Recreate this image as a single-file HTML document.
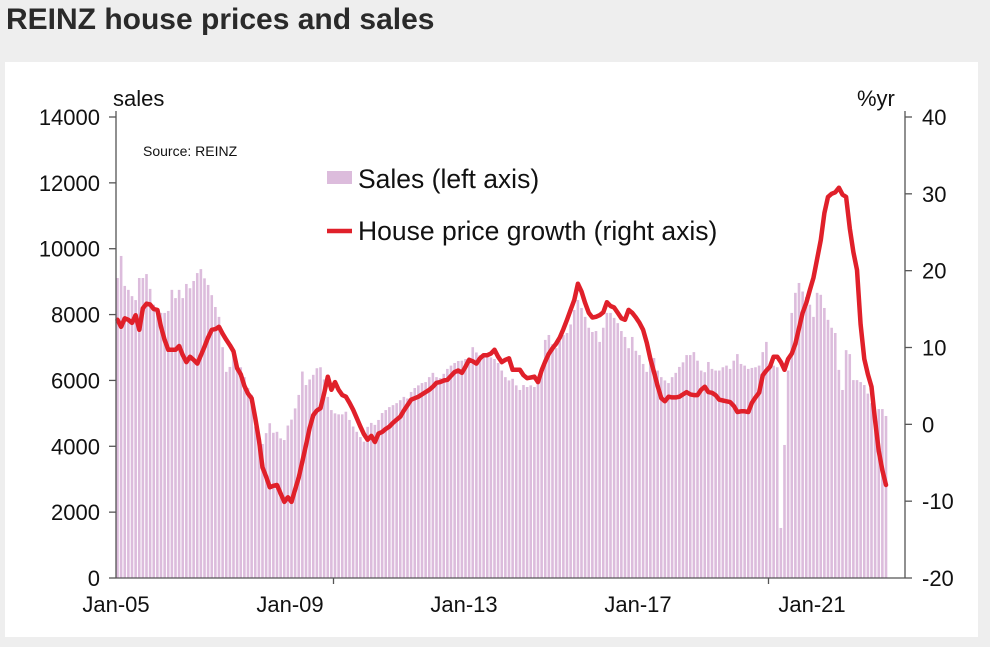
<!DOCTYPE html>
<html><head><meta charset="utf-8"><style>
body{margin:0;width:990px;height:647px;background:#eeeeee;font-family:"Liberation Sans",sans-serif;overflow:hidden}
#title{position:absolute;left:6px;top:3px;font-size:30px;font-weight:bold;color:#2a2a2a}
#panel{position:absolute;left:5px;top:62px;width:973px;height:575px;background:#fff}
svg{position:absolute;left:0;top:0}
</style></head><body>
<div id="title">REINZ house prices and sales</div>
<div id="panel"></div>
<svg id="chart" width="990" height="647"></svg>
<script>
const leftTicks=[0,2000,4000,6000,8000,10000,12000,14000];
const rightTicks=[-20,-10,0,10,20,30,40];
const xLabels=["Jan-05","Jan-09","Jan-13","Jan-17","Jan-21"];
const xLabelMonths=[0,48,96,144,192];
const xTickMonths=[60,180];
const sales=[9110,9780,8870,8750,8560,8440,9110,9110,9230,8780,8300,8100,
8050,8050,8110,8750,8500,8750,8500,8930,8800,9020,9260,9380,
9100,8900,8590,8230,7930,7010,6260,6410,6770,6470,6400,6100,
5770,5560,4600,4300,4070,4400,4700,4410,4440,4240,4190,4630,
4810,5150,5560,6270,5860,6030,6170,6370,6400,6030,5500,5100,
5000,4970,4970,5050,4800,4600,4440,4280,4140,4590,4710,4650,
4800,5010,5100,5190,5250,5310,5400,5500,5450,5650,5770,5850,
5920,5950,6100,6230,6100,6070,6200,6350,6450,6530,6590,6600,
6650,6700,7010,6850,6770,6700,6750,6700,6650,6530,6300,6100,
6000,6050,5850,5710,5860,5800,5850,5800,5900,6400,7230,7380,
7100,6980,7200,7380,7440,7700,8140,8440,8200,7930,7600,7470,
7500,7170,7600,8050,8050,7900,7740,7500,7320,6980,7320,6900,
6770,6500,6260,6530,6680,6300,6100,6000,5920,6100,6230,6410,
6550,6770,6770,6860,6600,6300,6250,6560,6350,6300,6300,6400,
6450,6350,6600,6800,6500,6450,6350,6380,6400,6450,6860,7170,
6500,6450,6400,1520,4040,6300,8050,8660,8960,8700,8530,8300,
7930,8660,8600,8200,7840,7600,7440,6320,5710,6920,6800,6010,
6010,5950,5860,5600,5310,5010,5130,5130,4920];
const priceGrowth=[13.6,12.7,13.8,13.6,13.2,14.2,12.3,15.1,15.7,15.6,15.0,14.9,
12.7,11,9.7,9.7,9.7,10.2,9,8.1,8.8,8.4,7.9,9,
10.1,11.3,12.3,12.4,12.7,11.8,11,10.3,9.5,7.3,6.5,5,
4,3.4,0.8,-2,-5.6,-6.8,-8.2,-8,-7.9,-9,-10.1,-9.5,
-10.1,-8.5,-6.9,-4.8,-2.7,-0.5,1.2,1.8,2.1,4,6.2,4.5,
5.5,4.5,3.8,3.6,2.8,1.9,0.8,-0.3,-1.3,-2,-1.5,-2.3,
-1.2,-1,-0.6,-0.3,0.2,0.6,1,1.8,2.5,3.2,3.4,3.6,
3.9,4.2,4.5,4.9,5.4,5.5,5.7,5.8,6.3,6.8,7,6.7,
7.5,8.4,8.2,7.9,8.6,9,9,9.2,9.7,8.8,8.1,8.4,
8.6,7.1,7.1,7.1,6.4,6,6.1,6.2,5.5,7,8.2,9.2,
9.9,10.5,11.3,12.4,13.6,14.9,16.2,18.3,17.3,15.8,14.5,13.9,
14,14.2,14.6,15.9,15.4,15.2,14.5,13.8,13.6,14.9,14.5,13.9,
13.2,12.3,10.6,8.5,6.8,5,3.4,3,3.6,3.5,3.5,3.6,
3.9,4.2,3.9,3.8,3.8,4.5,4.9,4.2,4.1,3.8,3.2,3.1,
3.0,2.9,2.4,1.6,1.7,1.7,1.6,2.8,3.5,4.1,6.4,7,
7.5,8.8,8.8,8.1,7.1,8.5,9.2,10.5,12.5,14.5,15.8,17.5,
19.1,21.5,24,27.5,29.6,30,30.2,30.8,29.9,29.6,25.5,22.4,
20.1,13,8.5,6.5,4.9,0.5,-3.5,-6,-7.9];

const X0=116,X1=905,Y0=578,Y1=117,PXM=3.625;
const x=i=>X0+i*PXM+1.5;
const yL=v=>Y0-(v/14000)*(Y0-Y1);
const yR=v=>Y0-((v+20)/60)*(Y0-Y1);
const NS="http://www.w3.org/2000/svg";
const svg=document.getElementById('chart');
function mk(t,a){const e=document.createElementNS(NS,t);for(const k in a)e.setAttribute(k,a[k]);svg.appendChild(e);return e;}
function txt(s,a){const e=mk('text',a);e.textContent=s;return e;}

sales.forEach((v,i)=>{
 const r=mk('rect',{x:x(i)-1.3,y:yL(v),width:2.6,height:Y0-yL(v),fill:'#dcbcdc'});
 
 
});
const pts=priceGrowth.map((v,i)=>x(i).toFixed(1)+','+yR(v).toFixed(1)).join(' ');
const line=mk('polyline',{points:pts,fill:'none',stroke:'#e0202a','stroke-width':4.5,'stroke-linejoin':'round','stroke-linecap':'round'});



const ax={stroke:'#555','stroke-width':1.3};
mk('line',Object.assign({x1:X0,y1:Y1-6,x2:X0,y2:Y0},ax));
mk('line',Object.assign({x1:X1,y1:Y1-6,x2:X1,y2:Y0},ax));
mk('line',Object.assign({x1:X0,y1:Y0,x2:X1,y2:Y0},ax));
leftTicks.forEach(v=>{
 mk('line',Object.assign({x1:X0-7,y1:yL(v),x2:X0,y2:yL(v)},ax));
 const t=txt(v,{x:100,y:yL(v)+8,'text-anchor':'end','font-size':22,fill:'#111'});
 
 
});
rightTicks.forEach(v=>{
 mk('line',Object.assign({x1:X1,y1:yR(v),x2:X1+7,y2:yR(v)},ax));
 const t=txt(v,{x:922,y:yR(v)+8,'font-size':22,fill:'#111'});
 
 
});
xTickMonths.forEach(m=>{mk('line',Object.assign({x1:X0+m*PXM,y1:Y0,x2:X0+m*PXM,y2:Y0+6},ax));});
xLabels.forEach((s,k)=>{
 const t=txt(s,{x:X0+xLabelMonths[k]*PXM,y:612,'text-anchor':'middle','font-size':22,fill:'#111'});
 
 
});
</script>
<svg width="990" height="647" style="position:absolute;left:0;top:0">
<text x="113" y="106" font-size="22" fill="#111">sales</text>
<text x="857" y="106" font-size="22" fill="#111">%yr</text>
<text x="143" y="156" font-size="14" fill="#111">Source: REINZ</text>
<rect x="327" y="171" width="25" height="13" fill="#dcbcdc"/>
<text x="358" y="188" font-size="26.5" fill="#111">Sales (left axis)</text>
<line x1="327" y1="231" x2="352" y2="231" stroke="#e0202a" stroke-width="4.5"/>
<text x="358" y="240" font-size="26.5" fill="#111">House price growth (right axis)</text>
</svg>
</body></html>
